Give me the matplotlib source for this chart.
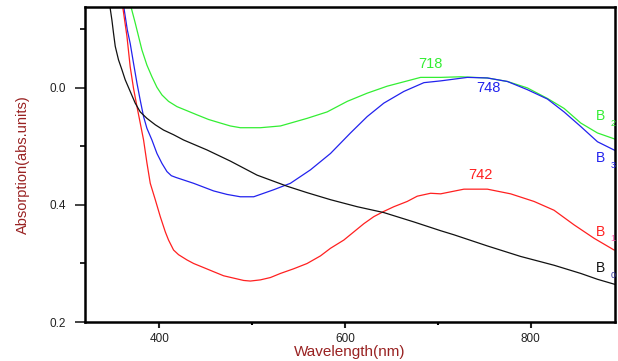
import matplotlib
matplotlib.use("Agg")
import matplotlib.pyplot as plt
from matplotlib.ticker import FixedLocator

plt.rcParams['font.family'] = ['Liberation Sans', 'DejaVu Sans']

# ---- data ----
wl_B2 = [366, 374.1, 377.7, 381.3, 386.7, 392.1, 397.5, 402.9, 410.0, 419.1, 429.9, 440.6,
         453.2, 465.8, 476.5, 487.3, 498.1, 508.9, 530.5, 559.2, 580.8,
         602.4, 623.9, 645.5, 667.1, 681.4, 703.0, 724.5, 753.3, 774.9, 796.4, 818.0, 835.9,
         853.9, 871.9, 893.5]
A_B2 = [0.760, 0.711, 0.688, 0.665, 0.639, 0.619, 0.601, 0.588, 0.577, 0.568, 0.561, 0.554,
        0.546, 0.540, 0.535, 0.532, 0.532, 0.532, 0.535, 0.548, 0.559,
        0.577, 0.591, 0.603, 0.612, 0.618, 0.618, 0.619, 0.617, 0.611, 0.600, 0.582, 0.565,
        0.540, 0.523, 0.511]

wl_B3 = [359, 365.6, 368.7, 372.3, 376.0, 379.5, 383.1, 386.7, 392.1, 397.5, 402.9, 408.3,
         413.0, 418.0, 437.0, 458.5, 473.0, 487.3, 501.7, 523.2,
         541.2, 562.8, 584.4, 605.9, 623.9, 641.8, 663.4, 685.0, 703.0, 731.8, 753.3, 774.9,
         796.4, 818.0, 835.9, 853.9, 871.9, 893.5]
A_B3 = [0.767, 0.699, 0.676, 0.642, 0.608, 0.579, 0.551, 0.531, 0.511, 0.488, 0.471, 0.457,
        0.450, 0.447, 0.437, 0.424, 0.418, 0.414, 0.414, 0.426,
        0.437, 0.460, 0.488, 0.523, 0.551, 0.574, 0.594, 0.609, 0.612, 0.618, 0.617, 0.611,
        0.597, 0.581, 0.559, 0.534, 0.508, 0.491]

wl_B1 = [358, 365.2, 368.7, 372.3, 376.0, 379.5, 383.1, 386.7, 390.3, 395.7, 401.1, 406.5,
         410.0, 415.4, 420.8, 429.9, 437.0, 447.8, 458.5, 469.3, 480.1, 490.9, 498.1,
         508.9, 519.7, 530.5, 544.8, 559.2, 573.6, 584.4, 598.7, 609.5, 620.3, 631.0, 641.8,
         652.6, 667.0, 677.8, 692.2, 703.0, 728.1, 753.3,
         778.4, 803.6, 825.1, 846.7, 868.3, 889.8]
A_B1 = [0.768, 0.688, 0.636, 0.599, 0.568, 0.540, 0.511, 0.472, 0.437, 0.409, 0.380, 0.354,
        0.340, 0.323, 0.315, 0.306, 0.300, 0.293, 0.286, 0.279, 0.275, 0.271, 0.270,
        0.272, 0.276, 0.283, 0.291, 0.300, 0.313, 0.326, 0.340, 0.354, 0.368, 0.380, 0.389,
        0.397, 0.406, 0.415, 0.420, 0.419, 0.427, 0.427,
        0.419, 0.406, 0.391, 0.366, 0.343, 0.323]

wl_B0 = [345, 349.0, 350.7, 352.6, 356.1, 359.8, 363.3, 368.7, 374.1, 379.5, 386.7, 395.7,
         404.6, 415.4, 426.2, 451.4, 476.5, 505.3, 537.7,
         559.2, 584.4, 613.2, 641.8, 674.2, 703.0, 717.4, 753.3, 789.2, 825.1, 853.9, 871.9,
         893.5]
A_B0 = [0.759, 0.716, 0.694, 0.671, 0.648, 0.631, 0.614, 0.594, 0.574, 0.559, 0.548, 0.537,
        0.528, 0.520, 0.511, 0.494, 0.475, 0.451, 0.432,
        0.421, 0.409, 0.397, 0.387, 0.371, 0.356, 0.349, 0.330, 0.312, 0.297, 0.283, 0.273,
        0.263]

y_ticks = [0.2, 0.4, 0.6]
y_tick_labels = ['0.2', '0.4', '0.0']
x_ticks = [400, 600, 800]
x_tick_labels = ['400', '600', '800']

peak_labels = ['718', '748', '742']
curve_names = ['B', 'B', 'B', 'B']
curve_subs = ['2', '3', '1', '0']

# ---- figure ----
fig = plt.figure(figsize=(6.18, 3.61), dpi=100)
ax = fig.add_axes([0.1375, 0.108, 0.858, 0.873])

green, blue, red, black = '#33EE33', '#2222EE', '#FF2020', '#111111'
ax.plot(wl_B2, A_B2, color=green, lw=0.9)
ax.plot(wl_B3, A_B3, color=blue, lw=0.9)
ax.plot(wl_B1, A_B1, color=red, lw=0.9)
ax.plot(wl_B0, A_B0, color=black, lw=0.9)

ax.set_xlim(320, 891)
ax.set_ylim(0.2, 0.7385)

ax.set_xticks(x_ticks)
ax.set_xticklabels(x_tick_labels)
ax.xaxis.set_minor_locator(FixedLocator([500, 700]))
ax.set_yticks(y_ticks)
ax.set_yticklabels(y_tick_labels)
ax.yaxis.set_minor_locator(FixedLocator([0.3, 0.5, 0.7]))

ax.tick_params(axis='x', which='major', length=4, width=1.5, labelsize=8.5, colors='#222222', pad=4)
ax.tick_params(axis='x', which='minor', length=2.5, width=1.5)
ax.tick_params(axis='y', which='major', length=7, width=1.2, labelsize=8.5, colors='#222222', pad=7)
ax.tick_params(axis='y', which='minor', length=3.5, width=1.2)

for s in ax.spines.values():
    s.set_linewidth(1.8)
    s.set_color('black')

ax.set_xlabel('Wavelength(nm)', fontsize=11, color='#992222', labelpad=0)
ax.set_ylabel('Absorption(abs.units)', fontsize=10.5, color='#992222', labelpad=14)

# peak annotations
ax.text(692, 0.641, peak_labels[0], color=green, fontsize=10.5, ha='center', va='center')
ax.text(755, 0.600, peak_labels[1], color=blue, fontsize=10.5, ha='center', va='center')
ax.text(746, 0.452, peak_labels[2], color=red, fontsize=10.5, ha='center', va='center')

# curve labels
lab_pos = [(875.5, 0.552, green, green), (875.5, 0.480, blue, blue),
           (875.5, 0.354, red, '#FF55AA'), (875.5, 0.292, black, '#333399')]
for (x, y, c, cs), n, sub in zip(lab_pos, curve_names, curve_subs):
    ax.text(x, y, n, color=c, fontsize=10, ha='center', va='center', clip_on=False)
    ax.text(x + 13, y - 0.012, sub, color=cs, fontsize=6.5, ha='center', va='center', clip_on=False)

fig.savefig('out.png', dpi=100)
